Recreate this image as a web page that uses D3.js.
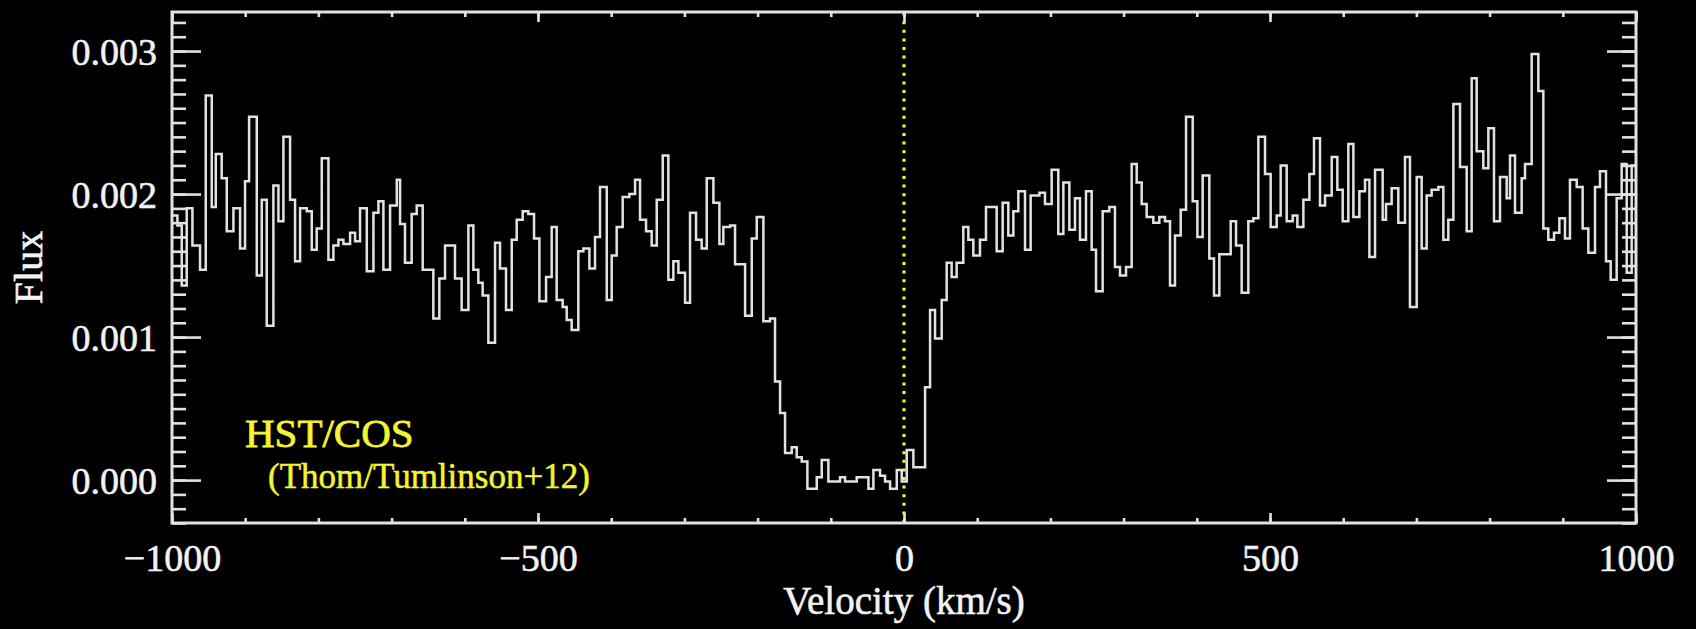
<!DOCTYPE html>
<html>
<head>
<meta charset="utf-8">
<script src="https://cdn.jsdelivr.net/npm/d3@7"></script>
<style>
  html, body { margin: 0; padding: 0; background: #000; }
  svg { display: block; }
</style>
</head>
<body>
<svg id="chart" width="1696" height="629"></svg>
<script>
// ---- Data (left edge velocity of each bin in km/s, flux per bin) ----
const velocity = [
  -1000, -992.6, -986.7, -979.9, -972.1, -961.7, -953.9, -945.7, -940.2, -932.1,
  -925.2, -916.1, -907.0, -900.2, -894.7, -884.2, -877.4, -870.6, -861.5, -854.6,
  -847.8, -838.7, -831.9, -825.0, -815.9, -809.1, -802.3, -795.4, -786.3, -779.5,
  -772.7, -765.8, -756.7, -749.9, -743.1, -733.9, -724.8, -718.0, -711.2, -702.1,
  -692.9, -688.4,
  -681.7, -672.6, -665.7, -657.5, -643.0, -634.8, -627.0, -613.4, -604.3, -595.1,
  -588.3, -581.5, -575.6, -567.8, -558.7, -551.9, -543.7, -535.9, -529.1, -520.9,
  -513.2, -505.4, -498.1, -489.0, -481.3, -474.5, -466.3, -460.8, -454.0, -444.9,
  -438.0, -429.8, -422.1, -415.3, -406.1, -399.3, -392.5, -384.3, -375.2, -367.4,
  -360.6, -352.4,
  -344.7, -337.8, -329.6, -321.9, -315.1, -308.2, -299.1, -292.3, -284.1, -276.4,
  -269.5, -260.4, -252.2, -246.8, -237.6, -230.8, -217.1, -208.0, -201.2, -192.1,
  -183.0,
  -176.2, -169.3, -162.5, -153.4, -146.6, -139.7, -132.0, -119.2, -112.4, -103.3,
  -87.4, -80.5, -64.6, -48.6, -41.8, -32.7, -25.9, -19.0, -9.9, -3.1,
  3.7, 12.8, 28.8, 35.6,
  42.4, 51.5, 58.3, 65.1, 71.9, 81.0, 87.9, 94.7, 103.8, 112.0,
  126.6, 134.8, 142.5, 149.4, 156.2, 165.3, 173.0, 185.0, 192.6, 201.7,
  210.8, 217.7, 225.9, 233.6, 240.4, 248.6, 256.4, 262.3, 271.4, 280.5,
  288.2, 295.1,
  303.3, 311.0, 317.9, 324.7, 331.5, 340.6, 348.8, 356.6, 363.4, 370.2,
  378.0, 385.3, 394.4, 400.8, 408.0, 417.1, 423.5, 430.8, 446.3, 453.6,
  461.3, 470.4, 477.3, 484.1, 493.2, 500.9, 509.1, 514.6, 522.8, 531.0,
  537.4, 545.6, 553.8, 560.1, 568.3, 575.2, 584.3, 592.0, 599.3, 607.0,
  613.9, 622.1, 629.8, 635.8, 643.5,
  653.9, 658.5, 666.2, 675.3, 684.4, 691.2, 700.4, 707.2, 714.0, 720.8,
  730.0, 736.8, 743.6, 750.5, 759.6, 768.7, 775.5, 782.3, 791.4, 798.3,
  806.0, 814.2, 823.3, 827.9, 834.7, 843.8, 848.4, 857.5, 866.6, 873.4,
  880.2, 888.0, 895.3, 903.0, 909.8, 919.0, 927.1, 934.9, 944.0, 950.8,
  959.0, 965.4, 973.6, 980.4, 987.3, 994.1
];
const flux = [
  0.00185, 0.00178, 0.00136, 0.00190, 0.00164, 0.00147, 0.00269, 0.00191, 0.00228, 0.00211,
  0.00174, 0.00190, 0.00162, 0.00209, 0.00254, 0.00143, 0.00196, 0.00108, 0.00206, 0.00181,
  0.00240, 0.00196, 0.00153, 0.00190, 0.00188, 0.00161, 0.00176, 0.00225, 0.00154, 0.00164,
  0.00168, 0.00165, 0.00173, 0.00167, 0.00190, 0.00146, 0.00187, 0.00195, 0.00147, 0.00192,
  0.00210, 0.00179,
  0.00152, 0.00186, 0.00192, 0.00147, 0.00113, 0.00141, 0.00164, 0.00141, 0.00119, 0.00178,
  0.00147, 0.00138, 0.00129, 0.00096, 0.00166, 0.00148, 0.00119, 0.00168, 0.00182, 0.00188,
  0.00186, 0.00169, 0.00125, 0.00142, 0.00177, 0.00126, 0.00121, 0.00112, 0.00105, 0.00160,
  0.00162, 0.00148, 0.00170, 0.00205, 0.00126, 0.00157, 0.00177, 0.00198, 0.00200, 0.00210,
  0.00182, 0.00174,
  0.00164, 0.00196, 0.00227, 0.00140, 0.00153, 0.00145, 0.00124, 0.00187, 0.00168, 0.00162,
  0.00211, 0.00194, 0.00165, 0.00177, 0.00178, 0.00151, 0.00115, 0.00169, 0.00184, 0.00111,
  0.00113,
  0.00069, 0.00047, 0.00019, 0.00023, 0.00016, 0.00013, -0.00006, 0.00002, 0.00014, -0.00001,
  0.00002, -0.00001, 0.00002, -0.00006, 0.00007, 0.00003, -0.00001, -0.00006, 0.00007, -0.00001,
  0.00021, 0.00009, 0.00065, 0.00119,
  0.00099, 0.00126, 0.00152, 0.00142, 0.00152, 0.00177, 0.00168, 0.00157, 0.00168, 0.00191,
  0.00160, 0.00194, 0.00171, 0.00188, 0.00202, 0.00161, 0.00199, 0.00201, 0.00193, 0.00217,
  0.00172, 0.00208, 0.00175, 0.00197, 0.00168, 0.00202, 0.00161, 0.00132, 0.00188, 0.00191,
  0.00149, 0.00143,
  0.00149, 0.00221, 0.00208, 0.00193, 0.00184, 0.00180, 0.00184, 0.00181, 0.00136, 0.00171,
  0.00189, 0.00254, 0.00195, 0.00170, 0.00213, 0.00155, 0.00129, 0.00158, 0.00181, 0.00164,
  0.00131, 0.00181, 0.00183, 0.00240, 0.00214, 0.00177, 0.00185, 0.00220, 0.00181, 0.00185,
  0.00177, 0.00196, 0.00214, 0.00239, 0.00192, 0.00199, 0.00226, 0.00203, 0.00181, 0.00235,
  0.00184, 0.00202, 0.00210, 0.00156, 0.00217,
  0.00182, 0.00193, 0.00204, 0.00180, 0.00226, 0.00121, 0.00212, 0.00162, 0.00199, 0.00203,
  0.00205, 0.00168, 0.00182, 0.00263, 0.00219, 0.00174, 0.00281, 0.00230, 0.00218, 0.00246,
  0.00181, 0.00212, 0.00197, 0.00227, 0.00187, 0.00211, 0.00221, 0.00298, 0.00272, 0.00176,
  0.00168, 0.00173, 0.00183, 0.00169, 0.00210, 0.00205, 0.00176, 0.00159, 0.00205, 0.00216,
  0.00153, 0.00140, 0.00197, 0.00221, 0.00145, 0.00220
];

const xDomain = [-1000, 1000];
const yDomain = [-0.0003, 0.003273];
const xMajorTicks = [-1000, -500, 0, 500, 1000];
const xMinorTicks = d3.range(-1000, 1001, 100);
const yMajorTicks = [0, 0.001, 0.002, 0.003];
const yMinorTicks = d3.range(-3, 33).map(d => d / 10000);
const xTitle = "Velocity (km/s)";
const yTitle = "Flux";
const noteLines = ["HST/COS", "(Thom/Tumlinson+12)"];

// ---- Layout ----
const L = 172, R = 1636, T = 12, B = 523;
const lineCol = "#e2e2e2", textCol = "#f2f2f2", yellow = "#f4f432";
const font = "'Liberation Serif', 'Times New Roman', serif";

const svg = d3.select("#chart");
svg.append("rect").attr("width", 1696).attr("height", 629).attr("fill", "#000");

const x = d3.scaleLinear().domain(xDomain).range([L, R]);
const y = d3.scaleLinear().domain(yDomain).range([B, T]);

svg.append("defs").append("clipPath").attr("id", "clip")
  .append("rect").attr("x", L).attr("y", T).attr("width", R - L).attr("height", B - T);

// zero-velocity dotted line
svg.append("line")
  .attr("x1", x(0)).attr("x2", x(0)).attr("y1", B).attr("y2", T)
  .attr("stroke", yellow).attr("stroke-width", 3.2)
  .attr("stroke-dasharray", "3,5.6");

// histogram step line
const pts = velocity.map((v, i) => [v, flux[i]]);
pts.push([xDomain[1], flux[flux.length - 1]]);
const line = d3.line().x(d => x(d[0])).y(d => y(d[1])).curve(d3.curveStepAfter);
svg.append("path")
  .attr("clip-path", "url(#clip)")
  .attr("d", line(pts))
  .attr("fill", "none").attr("stroke", lineCol).attr("stroke-width", 2.5)
  .attr("stroke-linejoin", "miter");

// axes
function styleAxis(g) {
  g.select(".domain").remove();
  g.selectAll(".tick line").attr("stroke", lineCol).attr("stroke-width", 2.6);
  g.selectAll(".tick text").attr("fill", textCol).attr("font-family", font).attr("font-size", 38)
    .attr("stroke", textCol).attr("stroke-width", 0.6);
}
const fmtX = d3.format("d");
const fmtY = d3.format(".3f");

svg.append("g").attr("transform", `translate(0,${B})`)
  .call(d3.axisBottom(x).tickValues(xMinorTicks).tickSize(-5).tickFormat(""))
  .call(styleAxis);
svg.append("g").attr("transform", `translate(0,${B})`)
  .call(d3.axisBottom(x).tickValues(xMajorTicks).tickSize(-10).tickPadding(21).tickFormat(fmtX))
  .call(styleAxis);
svg.append("g").attr("transform", `translate(0,${T})`)
  .call(d3.axisTop(x).tickValues(xMinorTicks).tickSize(-5).tickFormat(""))
  .call(styleAxis);
svg.append("g").attr("transform", `translate(0,${T})`)
  .call(d3.axisTop(x).tickValues(xMajorTicks).tickSize(-10).tickFormat(""))
  .call(styleAxis);

svg.append("g").attr("transform", `translate(${L},0)`)
  .call(d3.axisLeft(y).tickValues(yMinorTicks).tickSize(-14).tickFormat(""))
  .call(styleAxis);
svg.append("g").attr("transform", `translate(${L},0)`)
  .call(d3.axisLeft(y).tickValues(yMajorTicks).tickSize(-29).tickPadding(15).tickFormat(fmtY))
  .call(styleAxis)
  .call(g => g.selectAll(".tick text").attr("dy", "0.36em"));
svg.append("g").attr("transform", `translate(${R},0)`)
  .call(d3.axisRight(y).tickValues(yMinorTicks).tickSize(-14).tickFormat(""))
  .call(styleAxis);
svg.append("g").attr("transform", `translate(${R},0)`)
  .call(d3.axisRight(y).tickValues(yMajorTicks).tickSize(-29).tickFormat(""))
  .call(styleAxis);

// frame
svg.append("rect")
  .attr("x", L).attr("y", T).attr("width", R - L).attr("height", B - T)
  .attr("fill", "none").attr("stroke", lineCol).attr("stroke-width", 3);

// titles
svg.append("text")
  .attr("x", (L + R) / 2).attr("y", 614)
  .attr("text-anchor", "middle").attr("fill", textCol)
  .attr("stroke", textCol).attr("stroke-width", 0.6)
  .attr("font-family", font).attr("font-size", 39)
  .text(xTitle);
svg.append("text")
  .attr("transform", `translate(42,${(T + B) / 2}) rotate(-90)`)
  .attr("text-anchor", "middle").attr("fill", textCol)
  .attr("stroke", textCol).attr("stroke-width", 0.6)
  .attr("font-family", font).attr("font-size", 40)
  .text(yTitle);

// annotation
svg.append("text")
  .attr("x", 245).attr("y", 447)
  .attr("fill", yellow).attr("stroke", yellow).attr("stroke-width", 0.8)
  .attr("font-family", font).attr("font-size", 41)
  .text(noteLines[0]);
svg.append("text")
  .attr("x", 268).attr("y", 488)
  .attr("fill", yellow).attr("stroke", yellow).attr("stroke-width", 0.5)
  .attr("font-family", font).attr("font-size", 35)
  .text(noteLines[1]);
</script>
</body>
</html>
